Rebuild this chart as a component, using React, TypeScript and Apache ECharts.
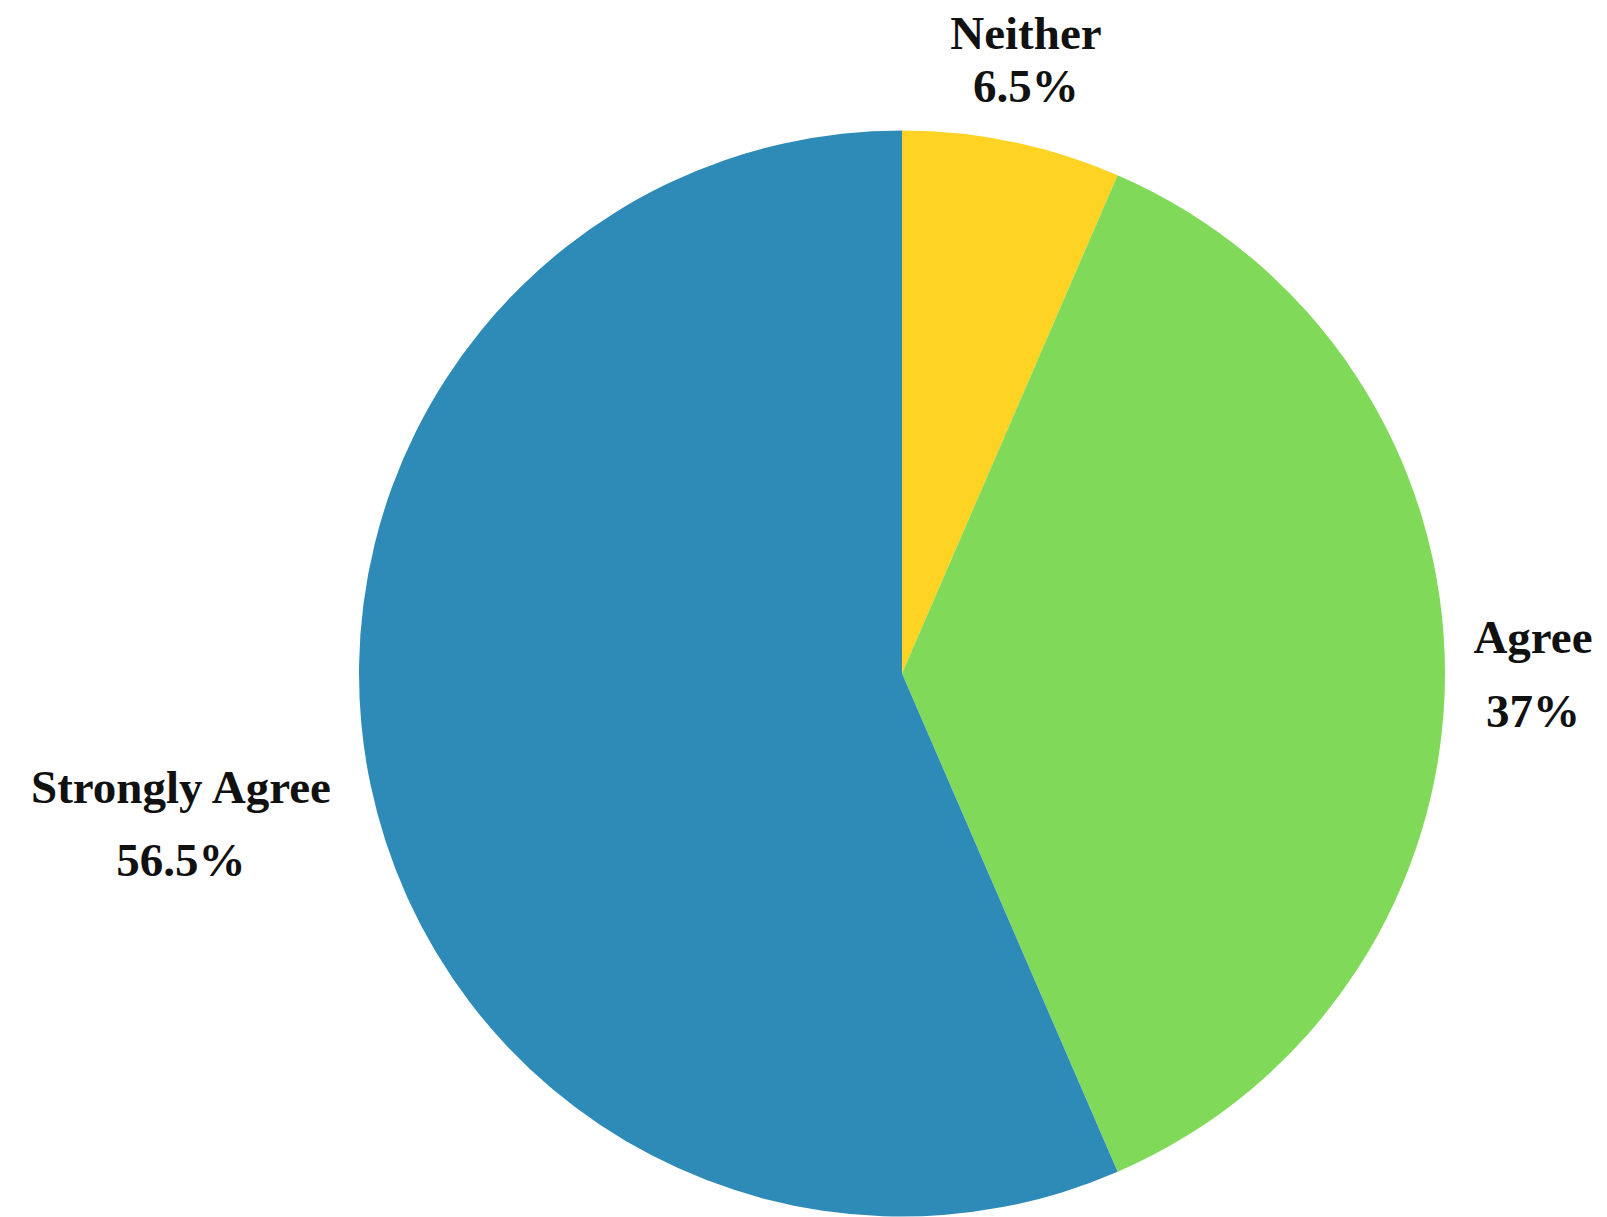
import React, { useEffect, useRef } from "react";
import * as echarts from "echarts";

// ---- data ----
const categories = ["Neither", "Agree", "Strongly Agree"];
const values = [6.5, 37, 56.5];

// ---- styling / label placement ----
const sliceColors = ["#FFD323", "#80D958", "#2E8BB8"];
const labelLen = [84.5, 10, 196.6];
const labelLen2 = [-88.3, 8, -168.2];
const labelBlockWidth = [160, 130, 320];
const labelLineHeight = [53, 74, 73];

const FONT = "'Liberation Serif', 'DejaVu Serif', serif";

export default function App() {
  const ref = useRef<HTMLDivElement>(null);

  useEffect(() => {
    if (!ref.current) return;
    const chart = echarts.init(ref.current, undefined, { renderer: "svg" });

    const data = categories.map((name, i) => ({
      name,
      value: values[i],
      itemStyle: { color: sliceColors[i] },
      label: {
        show: true,
        position: "outside",
        formatter: (p: any) => `{c|${p.name}}\n{c|${p.value}%}`,
        rich: {
          c: {
            width: labelBlockWidth[i],
            lineHeight: labelLineHeight[i],
            align: "center",
            fontSize: 47,
            fontFamily: FONT,
            fontWeight: "bold",
            color: "#111111",
          },
        },
      },
      labelLine: { show: false, length: labelLen[i], length2: labelLen2[i] },
    }));

    chart.setOption({
      animation: false,
      backgroundColor: "#ffffff",
      series: [
        {
          type: "pie",
          center: [902, 673.5],
          radius: 543,
          startAngle: 90,
          clockwise: true,
          avoidLabelOverlap: false,
          itemStyle: { borderWidth: 0 },
          emphasis: { disabled: true },
          data,
        },
      ],
    });

    return () => chart.dispose();
  }, []);

  return (
    <div
      ref={ref}
      style={{ position: "absolute", left: 0, top: 0, width: 1607, height: 1217 }}
    />
  );
}
